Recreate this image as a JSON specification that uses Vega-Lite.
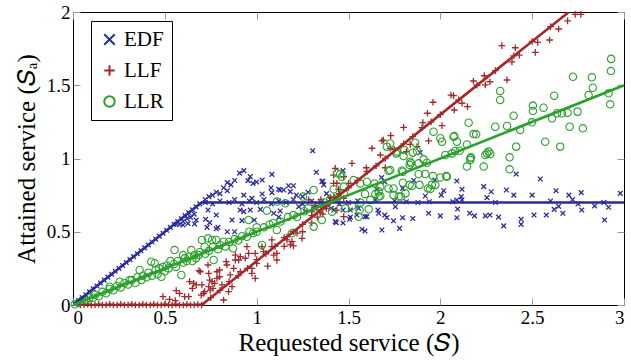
{
"$schema": "https://vega.github.io/schema/vega-lite/v6.json",
"width": 551, "height": 293,
"padding": {"left": 14, "top": 3, "right": 0, "bottom": 3},
"config": {"view": {"stroke": "black", "strokeWidth": 1}, "font": "Liberation Serif, Times New Roman, serif",
  "axis": {"labelFont": "Liberation Serif, Times New Roman, serif", "titleFont": "Liberation Serif, Times New Roman, serif", "labelFontSize": 19, "titleFontSize": 25, "labelColor": "black", "titleColor": "black", "titleFontWeight": "normal", "domain": false, "grid": false, "tickColor": "#999", "tickSize": -7, "labelPadding": 10, "format": "~g"}},
"datasets": {
"edf": [{"x":0.01,"y":0.01},{"x":0.03,"y":0.03},{"x":0.05,"y":0.05},{"x":0.07,"y":0.07},{"x":0.09,"y":0.09},{"x":0.11,"y":0.11},{"x":0.13,"y":0.13},{"x":0.15,"y":0.15},{"x":0.17,"y":0.17},{"x":0.19,"y":0.19},{"x":0.21,"y":0.21},{"x":0.23,"y":0.23},{"x":0.25,"y":0.25},{"x":0.27,"y":0.27},{"x":0.29,"y":0.29},{"x":0.31,"y":0.31},{"x":0.33,"y":0.33},{"x":0.35,"y":0.35},{"x":0.37,"y":0.37},{"x":0.39,"y":0.39},{"x":0.41,"y":0.41},{"x":0.43,"y":0.43},{"x":0.45,"y":0.45},{"x":0.47,"y":0.47},{"x":0.49,"y":0.49},{"x":0.51,"y":0.51},{"x":0.53,"y":0.53},{"x":0.55,"y":0.55},{"x":0.57,"y":0.57},{"x":0.59,"y":0.59},{"x":0.61,"y":0.61},{"x":0.63,"y":0.63},{"x":0.65,"y":0.65},{"x":0.67,"y":0.67},{"x":0.69,"y":0.69},{"x":0.58,"y":0.55},{"x":0.6,"y":0.57},{"x":0.62,"y":0.59},{"x":0.64,"y":0.6},{"x":0.66,"y":0.62},
{"x":0.72,"y":0.72},{"x":0.74,"y":0.74},{"x":0.76,"y":0.75},{"x":0.78,"y":0.77},{"x":0.8,"y":0.76},{"x":0.82,"y":0.8},{"x":0.84,"y":0.78},{"x":0.84,"y":0.835},{"x":0.86,"y":0.82},{"x":0.88,"y":0.85},{"x":0.907,"y":0.9},{"x":0.93,"y":0.917},{"x":0.953,"y":0.849},{"x":0.965,"y":0.876},{"x":0.98,"y":0.83},{"x":1.0,"y":0.84},{"x":1.03,"y":0.853},{"x":1.078,"y":0.8},{"x":1.083,"y":0.892},{"x":1.12,"y":0.79},{"x":1.128,"y":0.785},{"x":1.147,"y":0.785},{"x":1.174,"y":0.814},{"x":1.2,"y":0.814},{"x":1.183,"y":0.774},{"x":1.216,"y":0.75},{"x":0.93,"y":0.75},{"x":0.974,"y":0.728},{"x":1.03,"y":0.758},{"x":1.083,"y":0.767},{"x":1.305,"y":1.053},{"x":1.325,"y":0.906},{"x":1.355,"y":0.842},{"x":1.365,"y":0.82},{"x":1.36,"y":0.846},{"x":1.47,"y":0.917},
{"x":0.73,"y":0.53},{"x":0.78,"y":0.52},{"x":0.84,"y":0.5},{"x":0.88,"y":0.5},{"x":0.866,"y":0.58},{"x":0.91,"y":0.648},{"x":0.93,"y":0.637},{"x":0.965,"y":0.648},{"x":0.987,"y":0.58},{"x":0.92,"y":0.576},{"x":1.02,"y":0.653},{"x":1.093,"y":0.626},{"x":1.12,"y":0.6},{"x":1.128,"y":0.642},{"x":1.229,"y":0.671},{"x":1.265,"y":0.637},{"x":1.31,"y":0.671},{"x":1.406,"y":0.66},{"x":1.428,"y":0.569},{"x":1.47,"y":0.56},{"x":1.42,"y":0.648},{"x":1.47,"y":0.648},{"x":1.433,"y":0.562},{"x":1.506,"y":0.585},{"x":1.555,"y":0.66},
{"x":0.562,"y":0.553},{"x":0.599,"y":0.546},{"x":0.626,"y":0.557},{"x":0.662,"y":0.553},{"x":0.671,"y":0.58},{"x":0.722,"y":0.585},{"x":0.744,"y":0.562},{"x":0.78,"y":0.614},{"x":0.789,"y":0.53},{"x":0.735,"y":0.648},
{"x":0.72,"y":0.7},{"x":0.76,"y":0.69},{"x":0.8,"y":0.71},{"x":0.85,"y":0.7},{"x":0.88,"y":0.72},{"x":0.92,"y":0.69},{"x":0.96,"y":0.71},{"x":1.0,"y":0.7},{"x":1.04,"y":0.72},{"x":1.08,"y":0.69},{"x":1.12,"y":0.71},{"x":1.16,"y":0.7},{"x":1.2,"y":0.72},{"x":1.25,"y":0.69},{"x":1.3,"y":0.71},{"x":1.35,"y":0.7},{"x":1.4,"y":0.72},{"x":1.45,"y":0.69},{"x":1.5,"y":0.7},{"x":1.55,"y":0.71},{"x":1.25,"y":0.74},{"x":1.32,"y":0.66},{"x":1.38,"y":0.76},{"x":1.28,"y":0.77},
{"x":1.573,"y":0.517},{"x":1.59,"y":0.505},{"x":1.682,"y":0.512},{"x":1.778,"y":0.523},{"x":1.745,"y":0.575},{"x":1.795,"y":0.596},{"x":1.85,"y":0.59},{"x":1.697,"y":0.614},{"x":1.66,"y":0.648},{"x":1.59,"y":0.603},{"x":1.546,"y":0.614},{"x":1.51,"y":0.6},{"x":1.936,"y":0.626},{"x":2.0,"y":0.608},{"x":2.09,"y":0.596},{"x":2.094,"y":0.655},{"x":2.16,"y":0.626},{"x":2.186,"y":0.608},{"x":2.245,"y":0.608},{"x":2.27,"y":0.614},{"x":2.317,"y":0.6},{"x":2.345,"y":0.54},{"x":2.44,"y":0.585},{"x":2.44,"y":0.55},{"x":2.51,"y":0.614},{"x":2.577,"y":0.614},{"x":2.62,"y":0.653},{"x":2.667,"y":0.626},{"x":2.77,"y":0.648},{"x":2.84,"y":0.676},{"x":2.916,"y":0.667},{"x":2.894,"y":0.58},{"x":2.644,"y":0.673},{"x":1.51,"y":0.648},{"x":1.664,"y":0.626},{"x":1.709,"y":0.597},{"x":1.6,"y":0.603},
{"x":1.89,"y":1.04},{"x":2.09,"y":0.846},{"x":2.236,"y":0.808},{"x":2.277,"y":0.773},{"x":2.36,"y":0.785},{"x":2.4,"y":0.75},{"x":2.413,"y":0.894},{"x":2.544,"y":0.86},{"x":2.5,"y":0.75},{"x":2.63,"y":0.78},{"x":2.7,"y":0.75},{"x":2.767,"y":0.767},{"x":2.98,"y":0.762},{"x":2.018,"y":0.78},{"x":2.114,"y":0.74},{"x":2.005,"y":0.75},{"x":1.97,"y":0.853},{"x":1.855,"y":0.85},{"x":1.795,"y":0.796},{"x":1.697,"y":0.842},{"x":1.655,"y":0.79},{"x":1.68,"y":0.87},{"x":1.751,"y":0.71},{"x":1.815,"y":0.705},{"x":1.878,"y":0.7},{"x":1.94,"y":0.705},{"x":2.067,"y":0.705},{"x":2.118,"y":0.717},{"x":2.254,"y":0.733},{"x":1.646,"y":0.717},{"x":1.918,"y":0.744},{"x":2.118,"y":0.79},{"x":2.09,"y":0.717},{"x":1.755,"y":0.671},{"x":2.3,"y":0.7},{"x":2.6,"y":0.71},{"x":2.75,"y":0.69},{"x":2.89,"y":0.7},{"x":2.72,"y":0.72}],
"llf": [{"x":0.04,"y":0},{"x":0.06,"y":0},{"x":0.08,"y":0.005},{"x":0.1,"y":0},{"x":0.12,"y":0},{"x":0.14,"y":0.005},{"x":0.16,"y":0},{"x":0.18,"y":0},{"x":0.2,"y":0.005},{"x":0.22,"y":0},{"x":0.24,"y":0},{"x":0.26,"y":0.005},{"x":0.28,"y":0},{"x":0.3,"y":0},{"x":0.32,"y":0.005},{"x":0.34,"y":0},{"x":0.36,"y":0},{"x":0.38,"y":0.005},{"x":0.4,"y":0},{"x":0.42,"y":0},{"x":0.44,"y":0.005},{"x":0.46,"y":0},{"x":0.48,"y":0},{"x":0.5,"y":0.005},{"x":0.52,"y":0},{"x":0.54,"y":0},{"x":0.56,"y":0.005},{"x":0.58,"y":0},{"x":0.6,"y":0},{"x":0.62,"y":0.005},{"x":0.64,"y":0},{"x":0.66,"y":0},{"x":0.68,"y":0.005},{"x":0.7,"y":0},
{"x":0.49,"y":0.057},{"x":0.526,"y":0.039},{"x":0.557,"y":0.03},{"x":0.562,"y":0.098},{"x":0.58,"y":0.08},{"x":0.608,"y":0.057},{"x":0.63,"y":0.057},{"x":0.635,"y":0.159},{"x":0.65,"y":0.114},{"x":0.657,"y":0.148},{"x":0.671,"y":0.137},{"x":0.686,"y":0.234},{"x":0.693,"y":0.227},{"x":0.698,"y":0.068},{"x":0.702,"y":0.137},{"x":0.711,"y":0.08},{"x":0.717,"y":0.091},{"x":0.735,"y":0.273},{"x":0.739,"y":0.125},{"x":0.739,"y":0.216},{"x":0.744,"y":0.17},{"x":0.747,"y":0.102},{"x":0.757,"y":0.159},{"x":0.762,"y":0.114},{"x":0.771,"y":0.148},{"x":0.784,"y":0.182},{"x":0.784,"y":0.227},{"x":0.798,"y":0.239},{"x":0.798,"y":0.193},{"x":0.811,"y":0.137},{"x":0.82,"y":0.034},{"x":0.834,"y":0.296},{"x":0.838,"y":0.273},{"x":0.847,"y":0.091},{"x":0.856,"y":0.205},{"x":0.866,"y":0.125},{"x":0.875,"y":0.25},{"x":0.884,"y":0.307},{"x":0.884,"y":0.341},{"x":0.902,"y":0.307},{"x":0.911,"y":0.33},{"x":0.911,"y":0.227},{"x":0.938,"y":0.319},{"x":0.947,"y":0.398},{"x":0.956,"y":0.353},{"x":0.974,"y":0.216},{"x":0.974,"y":0.25},{"x":0.992,"y":0.353},{"x":0.992,"y":0.182},{"x":1.0,"y":0.284},{"x":1.029,"y":0.398},{"x":1.038,"y":0.364},{"x":1.06,"y":0.266},{"x":1.083,"y":0.398},{"x":1.083,"y":0.444},{"x":1.093,"y":0.341},{"x":1.11,"y":0.353},{"x":1.11,"y":0.307},{"x":1.165,"y":0.444},{"x":1.165,"y":0.466},{"x":1.183,"y":0.41},{"x":1.192,"y":0.432},{"x":1.2,"y":0.403},{"x":1.22,"y":0.49},{"x":1.247,"y":0.455},{"x":1.283,"y":0.717},{"x":1.3,"y":0.637},{"x":1.346,"y":0.63},{"x":1.373,"y":0.671},{"x":1.392,"y":0.694},{"x":1.428,"y":0.933},{"x":1.419,"y":0.887},{"x":1.437,"y":0.831},{"x":1.474,"y":0.876},{"x":1.437,"y":0.648},{"x":1.474,"y":0.603},{"x":1.4,"y":0.735},{"x":1.474,"y":0.728},{"x":1.446,"y":0.789},{"x":1.5,"y":0.83},{"x":1.419,"y":0.83},{"x":1.519,"y":0.967},{"x":1.597,"y":0.937},{"x":1.7,"y":0.937},{"x":1.628,"y":1.07},{"x":1.673,"y":1.024},{"x":1.682,"y":1.12},{"x":1.69,"y":1.126},{"x":1.73,"y":1.156},{"x":1.727,"y":1.07},{"x":1.8,"y":1.213},{"x":1.836,"y":1.096},{"x":1.815,"y":1.047},{"x":1.873,"y":1.081},{"x":1.936,"y":1.12},{"x":1.93,"y":1.309},{"x":1.96,"y":1.384},{"x":2.009,"y":1.224},{"x":1.905,"y":1.245},{"x":2.076,"y":1.331},{"x":2.118,"y":1.377},{"x":2.148,"y":1.354},{"x":2.058,"y":1.433},{"x":2.072,"y":1.429},{"x":2.18,"y":1.529},{"x":2.245,"y":1.502},{"x":2.27,"y":1.524},{"x":2.239,"y":1.565},{"x":2.363,"y":1.536},{"x":2.335,"y":1.77},{"x":2.39,"y":1.66},{"x":2.408,"y":1.756},{"x":2.43,"y":1.706},{"x":2.517,"y":1.725},{"x":2.53,"y":1.793},{"x":2.595,"y":1.809},{"x":2.644,"y":1.884},{"x":2.693,"y":1.94},{"x":2.734,"y":1.984},{"x":2.765,"y":1.984},
{"x":0.75,"y":0.05},{"x":0.8,"y":0.1},{"x":0.85,"y":0.16},{"x":0.9,"y":0.2},{"x":0.95,"y":0.25},{"x":1.0,"y":0.31},{"x":1.05,"y":0.35},{"x":1.1,"y":0.4},{"x":1.15,"y":0.46},{"x":1.2,"y":0.5},{"x":1.25,"y":0.55},{"x":1.3,"y":0.61},{"x":1.35,"y":0.65},{"x":1.4,"y":0.7},{"x":1.45,"y":0.76},{"x":1.5,"y":0.8},{"x":1.55,"y":0.85},{"x":1.6,"y":0.91},{"x":1.65,"y":0.95},{"x":1.7,"y":1.0},{"x":1.75,"y":1.06},{"x":1.8,"y":1.1},{"x":1.85,"y":1.15},{"x":1.9,"y":1.21},{"x":1.95,"y":1.25},{"x":2.0,"y":1.3},{"x":2.1,"y":1.4},{"x":2.2,"y":1.5},{"x":2.3,"y":1.6},{"x":2.4,"y":1.7},{"x":2.5,"y":1.8},{"x":2.6,"y":1.9},
{"x":1.15,"y":0.4},{"x":1.25,"y":0.5},{"x":1.3,"y":0.56},{"x":1.33,"y":0.6},{"x":1.36,"y":0.62},{"x":1.38,"y":0.66},{"x":1.42,"y":0.74},{"x":1.45,"y":0.7},{"x":1.35,"y":0.72},{"x":1.32,"y":0.68}],
"llr": [{"x":0.01,"y":0.005},{"x":0.03,"y":0.015},{"x":0.05,"y":0.03},{"x":0.07,"y":0.03},{"x":0.09,"y":0.05},{"x":0.11,"y":0.05},{"x":0.12,"y":0.07},{"x":0.14,"y":0.06},{"x":0.16,"y":0.09},{"x":0.18,"y":0.08},{"x":0.2,"y":0.11},{"x":0.2,"y":0.125},{"x":0.22,"y":0.1},{"x":0.24,"y":0.13},{"x":0.254,"y":0.159},{"x":0.26,"y":0.12},{"x":0.28,"y":0.15},{"x":0.3,"y":0.14},{"x":0.309,"y":0.17},{"x":0.32,"y":0.17},{"x":0.34,"y":0.15},{"x":0.35,"y":0.19},{"x":0.363,"y":0.239},{"x":0.372,"y":0.17},{"x":0.38,"y":0.2},{"x":0.4,"y":0.19},{"x":0.41,"y":0.22},{"x":0.426,"y":0.296},{"x":0.43,"y":0.2},{"x":0.445,"y":0.285},{"x":0.45,"y":0.24},{"x":0.46,"y":0.21},{"x":0.47,"y":0.25},{"x":0.481,"y":0.193},{"x":0.49,"y":0.26},{"x":0.5,"y":0.23},{"x":0.51,"y":0.27},{"x":0.52,"y":0.25},{"x":0.53,"y":0.3},{"x":0.553,"y":0.375},{"x":0.55,"y":0.28},{"x":0.56,"y":0.26},{"x":0.57,"y":0.3},{"x":0.59,"y":0.205},{"x":0.599,"y":0.341},{"x":0.6,"y":0.29},{"x":0.61,"y":0.32},{"x":0.62,"y":0.3},{"x":0.63,"y":0.33},{"x":0.644,"y":0.375},{"x":0.65,"y":0.3},{"x":0.66,"y":0.34},{"x":0.67,"y":0.32},{"x":0.684,"y":0.341},{"x":0.69,"y":0.36},{"x":0.702,"y":0.444},{"x":0.717,"y":0.398},{"x":0.72,"y":0.35},{"x":0.735,"y":0.455},{"x":0.74,"y":0.37},{"x":0.757,"y":0.444},{"x":0.762,"y":0.398},{"x":0.766,"y":0.307},{"x":0.78,"y":0.444},{"x":0.79,"y":0.38},{"x":0.8,"y":0.41},{"x":0.82,"y":0.432},{"x":0.83,"y":0.4},{"x":0.85,"y":0.43},{"x":0.871,"y":0.387},{"x":0.88,"y":0.45},{"x":0.9,"y":0.44},{"x":0.92,"y":0.47},{"x":0.947,"y":0.466},{"x":0.956,"y":0.58},{"x":0.96,"y":0.5},{"x":0.98,"y":0.49},{"x":1.0,"y":0.53},{"x":1.0,"y":0.5},{"x":1.029,"y":0.41},{"x":1.04,"y":0.53},{"x":1.056,"y":0.644},{"x":1.07,"y":0.55},{"x":1.09,"y":0.56},{"x":1.11,"y":0.706},{"x":1.11,"y":0.512},{"x":1.13,"y":0.57},{"x":1.156,"y":0.694},{"x":1.17,"y":0.6},{"x":1.192,"y":0.489},{"x":1.2,"y":0.614},{"x":1.22,"y":0.6},{"x":1.252,"y":0.74},{"x":1.26,"y":0.64},{"x":1.28,"y":0.66},{"x":1.31,"y":0.785},{"x":1.31,"y":0.535},{"x":1.33,"y":0.67},{"x":1.355,"y":0.58},{"x":1.37,"y":0.7},{"x":1.41,"y":0.637},{"x":1.4,"y":0.72},{"x":1.437,"y":0.899},{"x":1.474,"y":0.762},{"x":1.474,"y":0.808},{"x":1.455,"y":0.894},{"x":1.464,"y":0.876},{"x":1.419,"y":0.79},{"x":1.437,"y":0.728},{"x":1.483,"y":0.66},{"x":1.519,"y":0.676},{"x":1.564,"y":0.699},{"x":1.619,"y":0.717},{"x":1.664,"y":0.74},{"x":1.61,"y":0.653},{"x":1.555,"y":0.603},{"x":1.56,"y":0.648},{"x":1.646,"y":0.758},{"x":1.59,"y":0.758},{"x":1.528,"y":0.853},{"x":1.564,"y":0.83},{"x":1.6,"y":0.842},{"x":1.642,"y":0.83},{"x":1.673,"y":0.808},{"x":1.718,"y":0.796},{"x":1.745,"y":0.796},{"x":1.773,"y":0.74},{"x":1.81,"y":0.762},{"x":1.745,"y":0.75},{"x":1.786,"y":0.74},{"x":1.673,"y":0.744},{"x":1.664,"y":0.774},{"x":1.727,"y":0.921},{"x":1.796,"y":0.91},{"x":1.882,"y":0.894},{"x":1.918,"y":0.894},{"x":1.96,"y":0.88},{"x":2.032,"y":0.88},{"x":1.796,"y":0.835},{"x":1.845,"y":0.812},{"x":1.887,"y":0.82},{"x":1.945,"y":0.792},{"x":1.973,"y":0.82},{"x":1.833,"y":0.82},{"x":1.718,"y":0.917},{"x":1.79,"y":0.917},{"x":1.833,"y":0.956},{"x":1.882,"y":0.967},{"x":1.927,"y":0.971},{"x":2.0,"y":0.871},{"x":2.036,"y":0.876},{"x":1.954,"y":0.82},{"x":1.932,"y":0.796},{"x":1.804,"y":1.058},{"x":1.709,"y":1.081},{"x":1.76,"y":1.035},{"x":1.727,"y":1.103},{"x":1.764,"y":1.047},{"x":1.873,"y":1.051},{"x":1.863,"y":1.108},{"x":1.85,"y":1.04},{"x":1.84,"y":0.967},{"x":1.8,"y":1.017},{"x":1.909,"y":0.994},{"x":1.836,"y":0.978},{"x":1.963,"y":1.183},{"x":2.0,"y":1.138},{"x":2.009,"y":1.115},{"x":2.072,"y":1.149},{"x":2.09,"y":1.115},{"x":2.145,"y":1.096},{"x":2.08,"y":1.051},{"x":2.154,"y":1.244},{"x":2.195,"y":1.165},{"x":2.027,"y":1.024},{"x":2.063,"y":1.035},{"x":2.105,"y":1.053},{"x":2.163,"y":0.99},{"x":2.145,"y":0.945},{"x":2.236,"y":0.945},{"x":2.254,"y":1.035},{"x":2.272,"y":1.031},{"x":2.377,"y":1.008},{"x":2.377,"y":0.926},{"x":2.413,"y":1.081},{"x":2.299,"y":1.217},{"x":2.326,"y":1.461},{"x":2.326,"y":1.4},{"x":2.363,"y":1.222},{"x":2.399,"y":1.292},{"x":2.435,"y":1.195},{"x":2.499,"y":1.247},{"x":2.504,"y":1.324},{"x":2.504,"y":1.361},{"x":2.562,"y":1.347},{"x":2.571,"y":1.115},{"x":2.608,"y":1.274},{"x":2.62,"y":1.429},{"x":2.653,"y":1.081},{"x":2.635,"y":1.309},{"x":2.662,"y":1.309},{"x":2.693,"y":1.313},{"x":2.704,"y":1.217},{"x":2.722,"y":1.558},{"x":2.747,"y":1.32},{"x":2.776,"y":1.206},{"x":2.807,"y":1.433},{"x":2.83,"y":1.483},{"x":2.825,"y":1.554},{"x":2.916,"y":1.445},{"x":2.925,"y":1.37},{"x":2.929,"y":1.597},{"x":2.93,"y":1.68},{"x":2.163,"y":1.001},{"x":2.245,"y":1.024},{"x":2.263,"y":1.047},{"x":2.167,"y":1.008},{"x":2.181,"y":1.167},{"x":2.076,"y":1.153}],
"lines": [{"s":"EDF","x":0,"y":0},{"s":"EDF","x":0.7,"y":0.7},{"s":"EDF","x":3,"y":0.7},{"s":"LLF","x":0,"y":0},{"s":"LLF","x":0.7,"y":0},{"s":"LLF","x":2.7,"y":2.0},{"s":"LLR","x":0,"y":0},{"s":"LLR","x":3,"y":1.5}]
},
"layer": [
{"data": {"name": "edf"}, "mark": {"type": "point", "filled": false, "strokeWidth": 1.3, "size": 22, "opacity": 1},
 "encoding": {"x": {"field": "x", "type": "quantitative", "scale": {"domain": [0, 3], "nice": false, "zero": false}, "axis": {"orient": "bottom", "values": [0,0.5,1,1.5,2,2.5,3], "title": "Requested service (𝑆)", "titlePadding": 3}},
  "y": {"field": "y", "type": "quantitative", "scale": {"domain": [0, 2], "nice": false, "zero": false}, "axis": {"orient": "left", "values": [0,0.5,1,1.5,2], "title": "Attained service (𝑆ₐ)", "titlePadding": 7}},
  "color": {"datum": "EDF", "type": "nominal", "scale": {"domain": ["EDF","LLF","LLR"], "range": ["#2b2b9c","#a3282a","#2ca02c"]}, "legend": {"title": null, "orient": "none", "legendX": 18, "legendY": 9, "strokeColor": "black", "fillColor": "white", "padding": 8, "labelFont": "Liberation Serif, Times New Roman, serif", "labelFontSize": 21, "labelColor": "black", "symbolSize": 110, "symbolStrokeWidth": 2, "symbolOpacity": 1, "rowPadding": 9, "labelOffset": 4, "cornerRadius": 0}},
  "shape": {"datum": "EDF", "type": "nominal", "scale": {"domain": ["EDF","LLF","LLR"], "range": ["M-1,-1L1,1M-1,1L1,-1","M-1,0L1,0M0,-1L0,1","circle"]}}}},
{"data": {"name": "llf"}, "mark": {"type": "point", "filled": false, "strokeWidth": 1.3, "size": 45, "opacity": 1},
 "encoding": {"x": {"field": "x", "type": "quantitative", "axis": {"orient": "top", "values": [0,0.5,1,1.5,2,2.5,3], "labels": false, "title": null}},
  "y": {"field": "y", "type": "quantitative", "axis": {"orient": "right", "values": [0,0.5,1,1.5,2], "labels": false, "title": null}},
  "color": {"datum": "LLF", "type": "nominal"}, "shape": {"datum": "LLF", "type": "nominal"}}},
{"data": {"name": "llr"}, "mark": {"type": "point", "filled": false, "strokeWidth": 1.1, "size": 55, "opacity": 1},
 "encoding": {"x": {"field": "x", "type": "quantitative", "axis": null},
  "y": {"field": "y", "type": "quantitative", "axis": null},
  "color": {"datum": "LLR", "type": "nominal"}, "shape": {"datum": "LLR", "type": "nominal"}}},
{"data": {"name": "lines"}, "mark": {"type": "line", "strokeWidth": 2.6, "clip": true},
 "encoding": {"x": {"field": "x", "type": "quantitative", "axis": null},
  "y": {"field": "y", "type": "quantitative", "axis": null},
  "detail": {"field": "s"},
  "color": {"field": "s", "type": "nominal", "legend": null}}}
],
"resolve": {"axis": {"x": "independent", "y": "independent"}}
}
